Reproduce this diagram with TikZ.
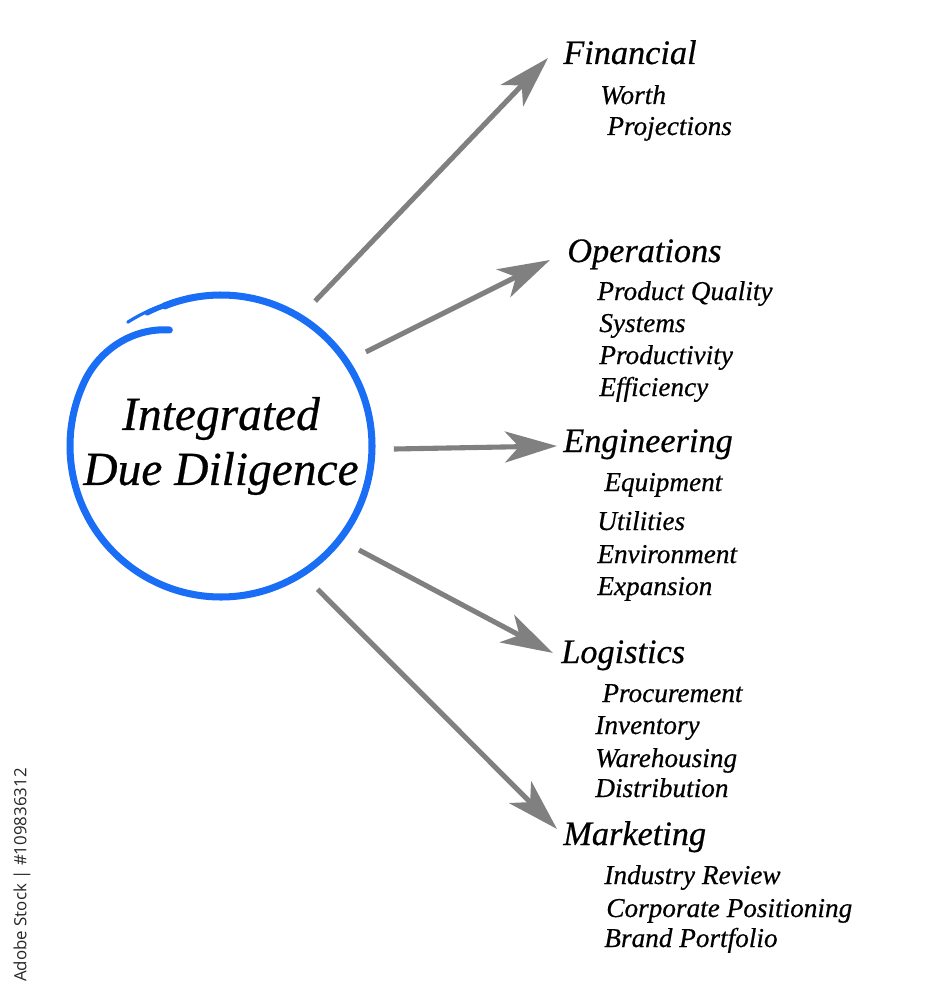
\documentclass[tikz,border=0pt]{standalone}
\usepackage{fontspec}
\setmainfont{Liberation Serif}[ItalicFeatures={FakeBold=0.5}]
\newfontfamily\marksans{Open Sans}
\usetikzlibrary{arrows.meta}
\definecolor{ringblue}{RGB}{25,110,245}
\definecolor{arrgray}{RGB}{128,128,128}
\begin{document}
\begin{tikzpicture}[x=0.02cm, y=-0.02cm,
  head/.style={anchor=base west, inner sep=0pt, font=\fontsize{19.5}{22}\selectfont\itshape},
  item/.style={anchor=base west, inner sep=0pt, font=\fontsize{15.5}{18}\selectfont\itshape},
  arr/.style={draw=arrgray, line width=2.9pt, -{Stealth[length=1.04cm, width=0.62cm, inset=0.28cm]}},
  ring/.style={draw=ringblue, line width=4pt, line cap=round}]
  \useasboundingbox (0,0) rectangle (925,1000);
  % hub
  \node[circle, minimum size=6.9cm, inner sep=0pt, align=center, font=\fontsize{27}{31.3}\selectfont\itshape] (hub) at (221,446) {Integrated\\Due Diligence};
  \draw[ring] plot[domain=112:-246, samples=150, smooth] ({221+(151-24*(max(0,-205-(\x))/41)^2)*cos(\x)}, {446-(151-24*(max(0,-205-(\x))/41)^2)*sin(\x)});
  \draw[ringblue, line width=1.8pt, line cap=round] plot[domain=127:108, samples=20, smooth] ({221+(152+0.2*(\x-112))*cos(\x)}, {446-(152+0.2*(\x-112))*sin(\x)});
  \draw[ringblue, line width=3pt, line cap=round] plot[domain=119:108, samples=12, smooth] ({221+(151.5+0.1*(\x-112))*cos(\x)}, {446-(151.5+0.1*(\x-112))*sin(\x)});
  % headers
  \node[head] (fin) at (563,64) {Financial};
  \node[head] (ops) at (567,262) {Operations};
  \node[head] (eng) at (563,452) {Engineering};
  \node[head] (log) at (561,663) {Logistics};
  \node[head] (mkt) at (563,845) {Marketing};
  % items
  \node[item] (fin1) at (600,104) {Worth};
  \node[item] (fin2) at (607,135) {Projections};
  \node[item] (ops1) at (597,300) {Product Quality};
  \node[item] (ops2) at (599,332) {Systems};
  \node[item] (ops3) at (599,364) {Productivity};
  \node[item] (ops4) at (599,396) {Efficiency};
  \node[item] (eng1) at (604,491) {Equipment};
  \node[item] (eng2) at (597,530) {Utilities};
  \node[item] (eng3) at (597,563) {Environment};
  \node[item] (eng4) at (597,595) {Expansion};
  \node[item] (log1) at (602,702) {Procurement};
  \node[item] (log2) at (595,734) {Inventory};
  \node[item] (log3) at (595,767) {Warehousing};
  \node[item] (log4) at (595,797) {Distribution};
  \node[item] (mkt1) at (604,884) {Industry Review};
  \node[item] (mkt2) at (606,917) {Corporate Positioning};
  \node[item] (mkt3) at (604,947) {Brand Portfolio};
  % arrow tips
  \coordinate (fin-tip) at (548,58);
  \coordinate (ops-tip) at (550,260);
  \coordinate (eng-tip) at (557,446);
  \coordinate (log-tip) at (553,653);
  \coordinate (mkt-tip) at (557,829);
  \draw[arr] (hub.57.9) -- (fin-tip);
  \draw[arr] (hub.33.2) -- (ops-tip);
  \draw[arr] (hub.-1.7) -- (eng-tip);
  \draw[arr] (hub.-37.1) -- (log-tip);
  \draw[arr] (hub.-56.7) -- (mkt-tip);
  \node[rotate=90, font=\marksans\fontsize{9.6}{11}\selectfont, text=black!85] (stock) at (22,875) {Adobe Stock | \#109836312};
\end{tikzpicture}
\end{document}
